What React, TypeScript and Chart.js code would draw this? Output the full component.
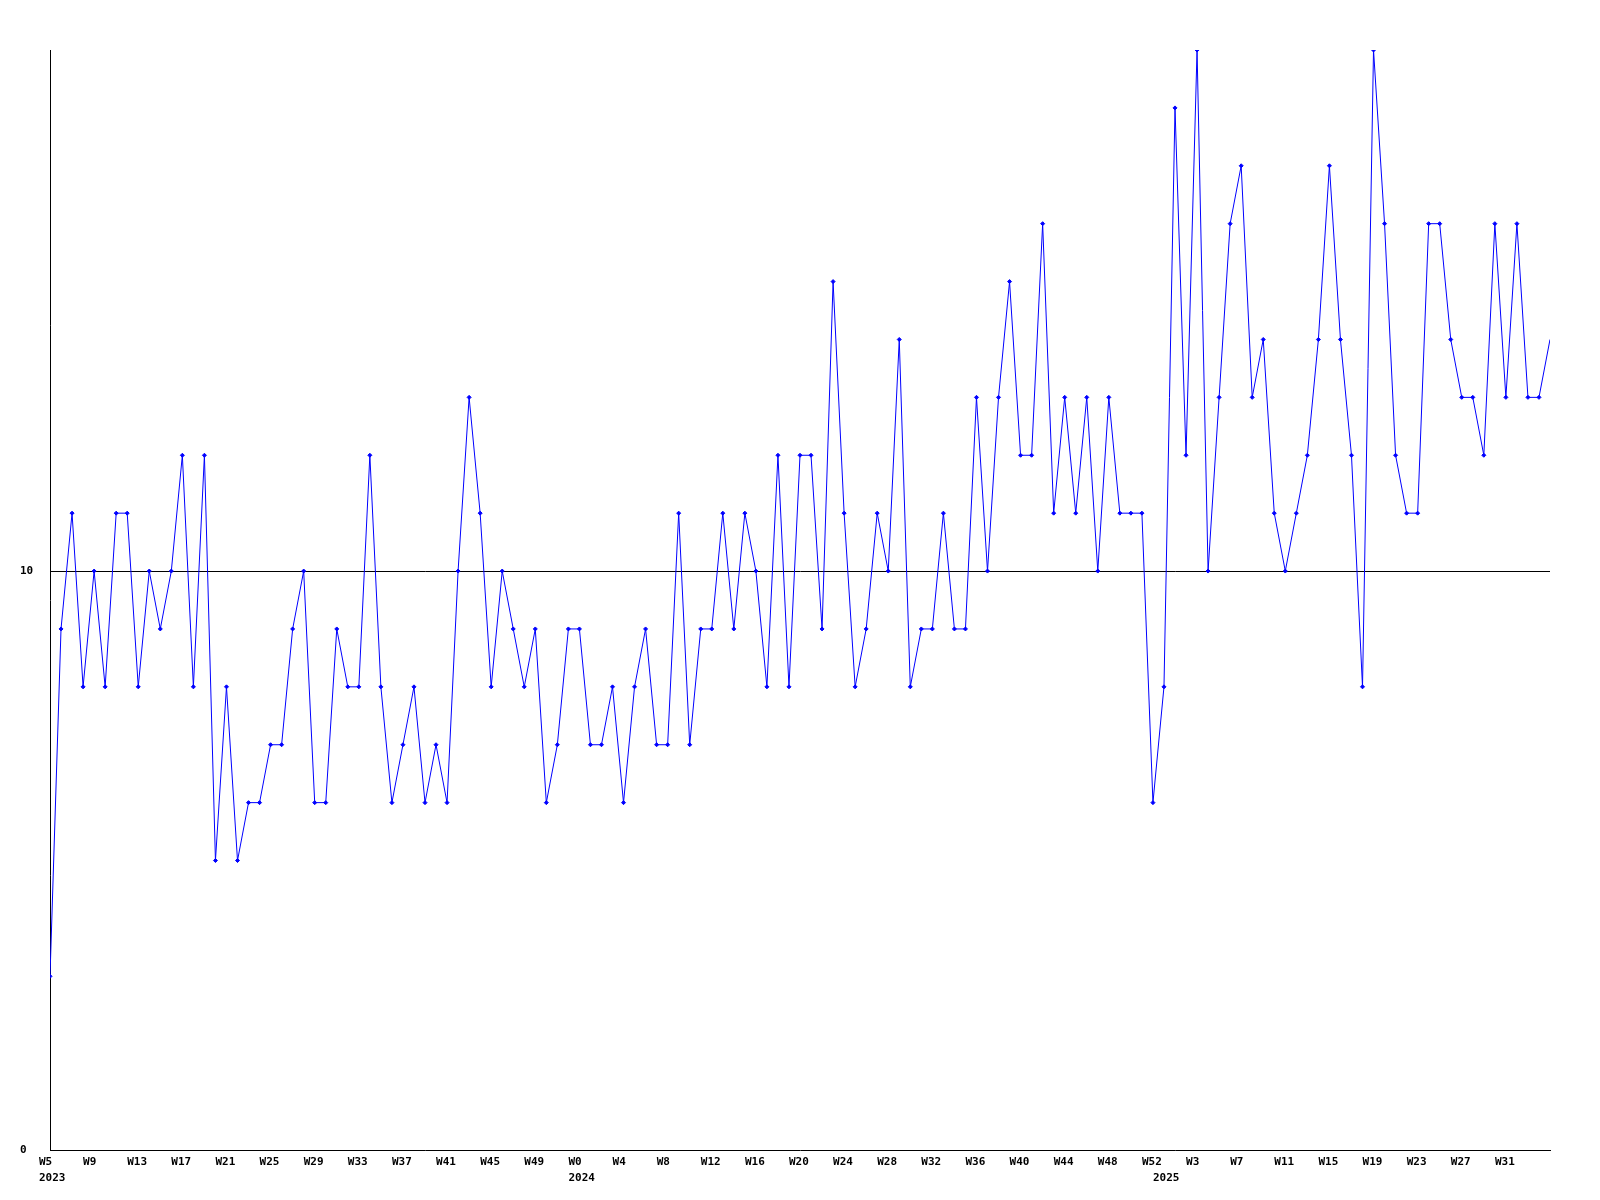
import React, { useEffect, useRef } from "react";
import { Chart, registerables } from "chart.js";

Chart.register(...registerables);

// week numbers shown on the x axis, per year
const weeks2023 = [5, 6, 7, 8, 9, 10, 11, 12, 13, 14, 15, 16, 17, 18, 19, 20, 21, 22, 23, 24, 25, 26, 27, 28, 29, 30, 31, 32, 33, 34, 35, 36, 37, 38, 39, 40, 41, 42, 43, 44, 45, 46, 47, 48, 49, 50, 51, 52];
const weeks2024 = [0, 1, 2, 3, 4, 5, 6, 7, 8, 9, 10, 11, 12, 13, 14, 15, 16, 17, 18, 19, 20, 21, 22, 23, 24, 25, 26, 27, 28, 29, 30, 31, 32, 33, 34, 35, 36, 37, 38, 39, 40, 41, 42, 43, 44, 45, 46, 47, 48, 49, 50, 51, 52];
const weeks2025 = [0, 1, 2, 3, 4, 5, 6, 7, 8, 9, 10, 11, 12, 13, 14, 15, 16, 17, 18, 19, 20, 21, 22, 23, 24, 25, 26, 27, 28, 29, 30, 31, 32, 33, 34, 35];

// weekly values
const values2023 = [3, 9, 11, 8, 10, 8, 11, 11, 8, 10, 9, 10, 12, 8, 12, 5, 8, 5, 6, 6, 7, 7, 9, 10, 6, 6, 9, 8, 8, 12, 8, 6, 7, 8, 6, 7, 6, 10, 13, 11, 8, 10, 9, 8, 9, 6, 7, 9];
const values2024 = [9, 7, 7, 8, 6, 8, 9, 7, 7, 11, 7, 9, 9, 11, 9, 11, 10, 8, 12, 8, 12, 12, 9, 15, 11, 8, 9, 11, 10, 14, 8, 9, 9, 11, 9, 9, 13, 10, 13, 15, 12, 12, 16, 11, 13, 11, 13, 10, 13, 11, 11, 11, 6];
const values2025 = [8, 18, 12, 19, 10, 13, 16, 17, 13, 14, 11, 10, 11, 12, 14, 17, 14, 12, 8, 19, 16, 12, 11, 11, 16, 16, 14, 13, 13, 12, 16, 13, 16, 13, 13, 14];

const years = ["2023", "2024", "2025"];
const yTickValues = [0, 10];
const yMin = 0;
const yMax = 19;
const weekLabelStep = 4;

const segments = [
  { year: years[0], weeks: weeks2023, values: values2023 },
  { year: years[1], weeks: weeks2024, values: values2024 },
  { year: years[2], weeks: weeks2025, values: values2025 },
];

const categories: string[] = [];
const tickWeek: string[] = [];
const tickYear: string[] = [];
const seriesValues: number[] = [];
segments.forEach((s) => {
  s.weeks.forEach((w, i) => {
    categories.push(`${s.year}-W${w}`);
    tickWeek.push(`W${w}`);
    tickYear.push(i === 0 ? s.year : "");
    seriesValues.push(s.values[i]);
  });
});

const FONT = {
  family: "'DejaVu Sans Mono', 'Liberation Mono', monospace",
  size: 11,
  weight: "bold" as const,
  lineHeight: 1.45,
};

export default function App() {
  const ref = useRef<HTMLCanvasElement | null>(null);

  useEffect(() => {
    if (!ref.current) return;
    const last = categories.length - 1;
    const chart = new Chart(ref.current, {
      type: "line",
      data: {
        labels: categories,
        datasets: [
          {
            data: seriesValues,
            borderColor: "#0000ff",
            borderWidth: 1,
            backgroundColor: "#0000ff",
            pointStyle: "rectRot",
            pointRadius: (ctx: any) => (ctx.dataIndex === last ? 0 : 2),
            pointBorderWidth: 1,
            pointBorderColor: "#0000ff",
            pointBackgroundColor: "#0000ff",
            tension: 0,
            fill: false,
            clip: 0,
          },
        ],
      },
      options: {
        animation: false,
        responsive: false,
        devicePixelRatio: 1,
        layout: { padding: { left: 20, top: 50, right: 50, bottom: 0 } },
        plugins: {
          legend: { display: false },
          tooltip: { enabled: false },
        },
        scales: {
          x: {
            type: "category",
            offset: false,
            grid: { display: false, drawTicks: false },
            border: { display: true, color: "#000", width: 1 },
            afterFit: (scale: any) => {
              scale.height = 50;
            },
            ticks: {
              autoSkip: false,
              maxRotation: 0,
              minRotation: 0,
              padding: 4,
              align: "start",
              labelOffset: -11,
              color: "#000",
              font: FONT,
              callback: (_v: any, index: number) => {
                const showWeek = index % weekLabelStep === 0 && index !== last;
                const w = showWeek ? tickWeek[index] : "";
                const y = tickYear[index];
                if (!w && !y) return "";
                return [w, y];
              },
            },
          },
          y: {
            min: yMin,
            max: yMax,
            afterBuildTicks: (scale: any) => {
              scale.ticks = yTickValues.map((v) => ({ value: v }));
            },
            afterFit: (scale: any) => {
              scale.width = 30;
            },
            grid: {
              drawTicks: false,
              color: (ctx: any) => (ctx.tick && ctx.tick.value === 10 ? "#000" : "rgba(0,0,0,0)"),
              lineWidth: 1,
            },
            border: { display: true, color: "#000", width: 1 },
            ticks: {
              crossAlign: "far",
              padding: 0,
              color: "#000",
              font: { ...FONT, lineHeight: 1.2 },
            },
          },
        },
      },
    } as any);
    return () => chart.destroy();
  }, []);

  return (
    <div style={{ position: "absolute", left: 0, top: 0, width: 1600, height: 1200, background: "#fff" }}>
      <canvas ref={ref} width={1600} height={1200} style={{ width: 1600, height: 1200, display: "block" }} />
    </div>
  );
}
